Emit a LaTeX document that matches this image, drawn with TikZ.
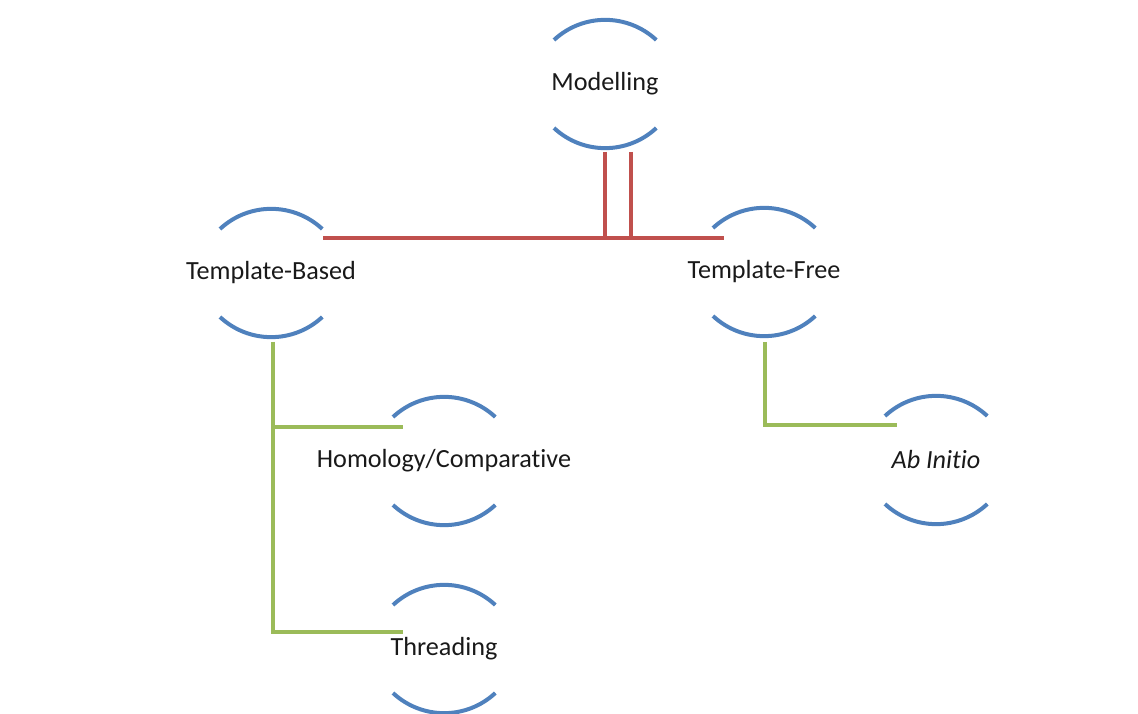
\documentclass[tikz,border=0pt]{standalone}
\usepackage{fontspec}
\setmainfont{Carlito}[Ligatures=NoCommon]
\usepackage{tikz}
\usetikzlibrary{positioning,calc}

\definecolor{moonblue}{HTML}{4F81BD}
\definecolor{linkred}{HTML}{C0504D}
\definecolor{linkgreen}{HTML}{9BBB59}

\begin{document}
\begin{tikzpicture}
  [every node/.style={inner sep=0pt,text=black!90,font=\fontsize{14.9}{17}\selectfont},
   moon/.style={draw=moonblue,line width=0.08cm},
   redlink/.style={draw=linkred,line width=0.08cm},
   greenlink/.style={draw=linkgreen,line width=0.08cm}]
  \useasboundingbox (0,0) rectangle (22.76,14.26);

  \node (mod) at (12.10,12.58) {Modelling};
  \node (tb) at (5.42,8.80) {Template-Based};
  \node (tf) at (15.28,8.82) {Template-Free};
  \node (hom) at (8.88,5.04) {Homology/Comparative};
  \node (thr) at (8.88,1.28) {Threading};
  \node (abi) at (18.72,5.06) {\itshape Ab Initio};

  % open circles round the labels
  \foreach \n in {mod,tb,tf,hom,thr,abi} {
    \draw[moon] ([shift={(-1.02,0.88)}]\n.center) arc[start angle=133,end angle=47,radius=1.5cm];
    \draw[moon] ([shift={(-1.02,-0.88)}]\n.center) arc[start angle=227,end angle=313,radius=1.5cm];
  }

  % connector ends
  \coordinate (mod-l) at ([shift={(0,-1.36)}]mod.center);
  \coordinate (mod-r) at ([shift={(0.52,-1.36)}]mod.center);
  \coordinate (tb-in) at ([shift={(1.04,0.70)}]tb.center);
  \coordinate (tf-in) at ([shift={(-0.80,0.68)}]tf.center);
  \coordinate (tb-out) at ([shift={(0.04,-1.38)}]tb.center);
  \coordinate (tf-out) at ([shift={(0.02,-1.40)}]tf.center);
  \coordinate (hom-in) at ([shift={(-0.82,0.68)}]hom.center);
  \coordinate (thr-in) at ([shift={(-0.82,0.34)}]thr.center);
  \coordinate (abi-in) at ([shift={(-0.78,0.70)}]abi.center);

  \foreach \from/\to in {mod-r/tb-in, mod-l/tf-in}
    \draw[redlink] (\from) |- (\to);
  \foreach \from/\to in {tb-out/hom-in, tb-out/thr-in, tf-out/abi-in}
    \draw[greenlink] (\from) |- (\to);
\end{tikzpicture}
\end{document}
